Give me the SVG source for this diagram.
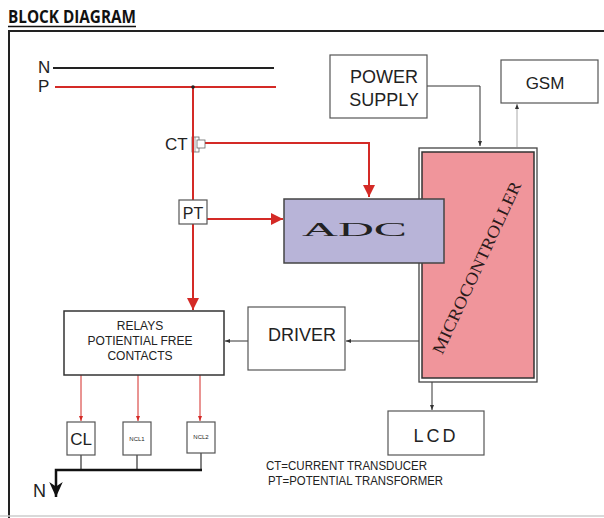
<svg xmlns="http://www.w3.org/2000/svg" width="604" height="518" viewBox="0 0 604 518">
<defs>
<style>
.box{fill:#fff;stroke:#555;stroke-width:1.2}
.t{font-family:"Liberation Sans",Arial,sans-serif;fill:#222}
.red{stroke:#d42a26;fill:none}
.thin{stroke:#333;stroke-width:1;fill:none}
</style>
<marker id="ar" viewBox="0 0 10 10" refX="10" refY="5" markerWidth="5" markerHeight="5" orient="auto" markerUnits="userSpaceOnUse"><path d="M0,1 L10,5 L0,9 z" fill="#333"/></marker>
<marker id="arr" viewBox="0 0 10 10" refX="10" refY="5" markerWidth="12" markerHeight="12" orient="auto" markerUnits="userSpaceOnUse"><path d="M0,0 L10,5 L0,10 z" fill="#d42a26"/></marker>
<marker id="arsm" viewBox="0 0 10 10" refX="10" refY="5" markerWidth="5" markerHeight="5" orient="auto" markerUnits="userSpaceOnUse"><path d="M0,1 L10,5 L0,9 z" fill="#d42a26"/></marker>
<marker id="ark" viewBox="0 0 10 10" refX="10" refY="5" markerWidth="15" markerHeight="15" orient="auto" markerUnits="userSpaceOnUse"><path d="M0,0.5 L10,5 L0,9.5 L3,5 z" fill="#111"/></marker>
</defs>
<rect width="604" height="518" fill="#fff"/>
<text x="8" y="23" font-family="'Open Sans','Liberation Sans',sans-serif" font-weight="bold" font-size="17" fill="#111" textLength="128" lengthAdjust="spacingAndGlyphs">BLOCK DIAGRAM</text>
<line x1="8" y1="26.5" x2="136" y2="26.5" stroke="#111" stroke-width="1.5"/>
<path d="M9,518 V31 H604" fill="none" stroke="#222" stroke-width="2"/>
<line x1="0" y1="516" x2="604" y2="516" stroke="#ccc" stroke-width="1.5"/>

<g id="lines">
<text class="t" x="38" y="73" font-size="17">N</text>
<line x1="53" y1="68" x2="274" y2="68" stroke="#222" stroke-width="2"/>
<text class="t" x="38" y="92" font-size="17">P</text>
<line x1="55" y1="87" x2="276" y2="87" stroke="#d42a26" stroke-width="2"/>
</g>

<g id="connectors">
<path class="red" stroke-width="2" d="M193,87 V310" marker-end="url(#arr)"/>
<circle cx="193" cy="87" r="1.8" fill="#222"/>
<path class="red" stroke-width="2" d="M205,143 H369 V197" marker-end="url(#arr)"/>
<path class="red" stroke-width="2" d="M207,219 H283" marker-end="url(#arr)"/>
<path class="thin" d="M427,86 H480 V146" marker-end="url(#ar)"/>
<path d="M517,147 V104" stroke="#aaa" stroke-width="1" fill="none" marker-end="url(#ar)"/>
<path class="thin" d="M419,341 H346" marker-end="url(#ar)"/>
<path class="thin" d="M248,341 H225" marker-end="url(#ar)"/>
<path class="thin" d="M432,382 V410" marker-end="url(#ar)"/>
<path class="red" stroke-width="1" d="M81,375 V421" marker-end="url(#arsm)"/>
<path class="red" stroke-width="1" d="M138,375 V421" marker-end="url(#arsm)"/>
<path class="red" stroke-width="1" d="M200,375 V421" marker-end="url(#arsm)"/>
<path d="M81,455 V470 M137,455 V470 M201,453 V470" stroke="#333" stroke-width="1.2" fill="none"/>
<path d="M202,470 H56 V497" stroke="#111" stroke-width="2.5" fill="none" marker-end="url(#ark)"/>
<text class="t" x="33" y="497" font-size="18">N</text>
</g>

<g id="ct">
<text class="t" x="165" y="150" font-size="17">CT</text>
<rect x="192" y="137" width="7" height="15" fill="#fff" stroke="#666" stroke-width="0.8"/>
<rect x="197" y="140" width="8" height="8" fill="#fff" stroke="#666" stroke-width="0.8"/>
<line x1="193" y1="130" x2="193" y2="160" stroke="#d42a26" stroke-width="2"/>
<line x1="195" y1="137" x2="195" y2="152" stroke="#666" stroke-width="0.6"/>
</g>

<g id="pt">
<rect class="box" x="179" y="200" width="28" height="24"/>
<text class="t" x="193" y="219" font-size="16" text-anchor="middle">PT</text>
</g>

<g id="power">
<rect class="box" x="330" y="55" width="97" height="63"/>
<text class="t" x="384" y="83" font-size="18" text-anchor="middle">POWER</text>
<text class="t" x="384" y="106" font-size="18" text-anchor="middle">SUPPLY</text>
</g>

<g id="gsm">
<rect class="box" x="501" y="60" width="97" height="43"/>
<text class="t" x="545" y="89" font-size="17" text-anchor="middle">GSM</text>
</g>

<g id="micro">
<rect x="419" y="148" width="118" height="234" fill="#fff" stroke="#444" stroke-width="1.3"/>
<rect x="422" y="152" width="112" height="226" fill="#f0959b" stroke="#333" stroke-width="1.5"/>
<text x="0" y="0" transform="translate(482,270) rotate(-65)" font-family="'Liberation Serif','Times New Roman',serif" font-size="17" fill="#2a1a1a" text-anchor="middle" textLength="188" lengthAdjust="spacingAndGlyphs">MICROCONTROLLER</text>
</g>

<g id="adc">
<rect x="284" y="199" width="160" height="64" fill="#b8b4d8" stroke="#444" stroke-width="1.5"/>
<text x="302" y="236" font-family="'Liberation Serif','Times New Roman',serif" font-size="19" fill="#222" textLength="105" lengthAdjust="spacingAndGlyphs">ADC</text>
</g>

<g id="driver">
<rect class="box" x="248" y="307" width="97" height="63"/>
<text class="t" x="302" y="341" font-size="18" text-anchor="middle">DRIVER</text>
</g>

<g id="relays">
<rect x="64" y="311" width="160" height="64" fill="#fff" stroke="#333" stroke-width="1.5"/>
<text class="t" x="140" y="330" font-size="12" text-anchor="middle">RELAYS</text>
<text class="t" x="140" y="345" font-size="12" text-anchor="middle">POTIENTIAL FREE</text>
<text class="t" x="140" y="360" font-size="12" text-anchor="middle">CONTACTS</text>
</g>

<g id="cl">
<rect class="box" x="67" y="422" width="28" height="33"/>
<text class="t" x="81" y="445" font-size="17" text-anchor="middle">CL</text>
</g>
<g id="ncl1">
<rect class="box" x="123" y="422" width="28" height="33"/>
<text class="t" x="137" y="441" font-size="6" text-anchor="middle">NCL1</text>
</g>
<g id="ncl2">
<rect class="box" x="187" y="422" width="28" height="31"/>
<text class="t" x="201" y="439" font-size="6" text-anchor="middle">NCL2</text>
</g>

<g id="lcd">
<rect class="box" x="388" y="411" width="96" height="44"/>
<text class="t" x="436" y="442" font-size="18" text-anchor="middle" letter-spacing="3">LCD</text>
</g>

<g id="legend">
<text class="t" x="266" y="470" font-size="12" textLength="161" lengthAdjust="spacingAndGlyphs">CT=CURRENT TRANSDUCER</text>
<text class="t" x="268" y="485" font-size="12" textLength="175" lengthAdjust="spacingAndGlyphs">PT=POTENTIAL TRANSFORMER</text>
</g>
</svg>
